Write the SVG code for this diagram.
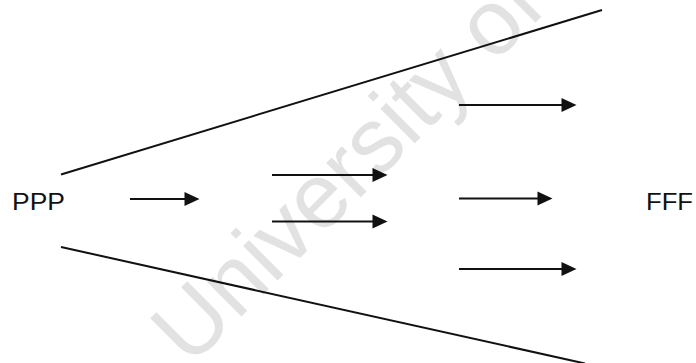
<svg xmlns="http://www.w3.org/2000/svg" width="696" height="363" viewBox="0 0 696 363">
  <style>
    .label { font-family: "Liberation Sans", Arial, sans-serif; font-size: 24.5px; fill: #111; }
    .mark { font-family: "Liberation Sans", Arial, sans-serif; font-size: 92px; fill: #e2e2e2; }
    .edge { stroke: #111; stroke-width: 2; fill: none; }
    .flow { stroke: #111; stroke-width: 2; fill: none; marker-end: url(#head); }
  </style>
  <defs>
    <marker id="head" markerUnits="userSpaceOnUse" markerWidth="16" markerHeight="16" refX="0.5" refY="7" orient="auto" overflow="visible">
      <path d="M0,0 L15,7 L0,14 Z" fill="#111"/>
    </marker>
  </defs>
  <rect width="696" height="363" fill="#fff"/>

  <!-- background watermark -->
  <text class="mark" transform="translate(190,368) rotate(-45)">University of</text>

  <!-- funnel boundaries -->
  <g id="funnel">
    <line class="edge" x1="61" y1="174.5" x2="602" y2="10"/>
    <line class="edge" x1="61" y1="247" x2="585" y2="363.5"/>
  </g>

  <g id="source">
    <text class="label" x="12" y="209.5" textLength="53" lengthAdjust="spacingAndGlyphs">PPP</text>
  </g>
  <g id="target">
    <text class="label" x="646" y="209.5" textLength="47" lengthAdjust="spacingAndGlyphs">FFF</text>
  </g>

  <!-- flow arrows -->
  <g id="connectors">
    <line class="flow" x1="130" y1="199" x2="185" y2="199"/>
    <line class="flow" x1="272" y1="175" x2="373" y2="175"/>
    <line class="flow" x1="272" y1="221.5" x2="373" y2="221.5"/>
    <line class="flow" x1="459" y1="105" x2="562" y2="105"/>
    <line class="flow" x1="459" y1="198.5" x2="538" y2="198.5"/>
    <line class="flow" x1="459" y1="269" x2="562" y2="269"/>
  </g>
</svg>
